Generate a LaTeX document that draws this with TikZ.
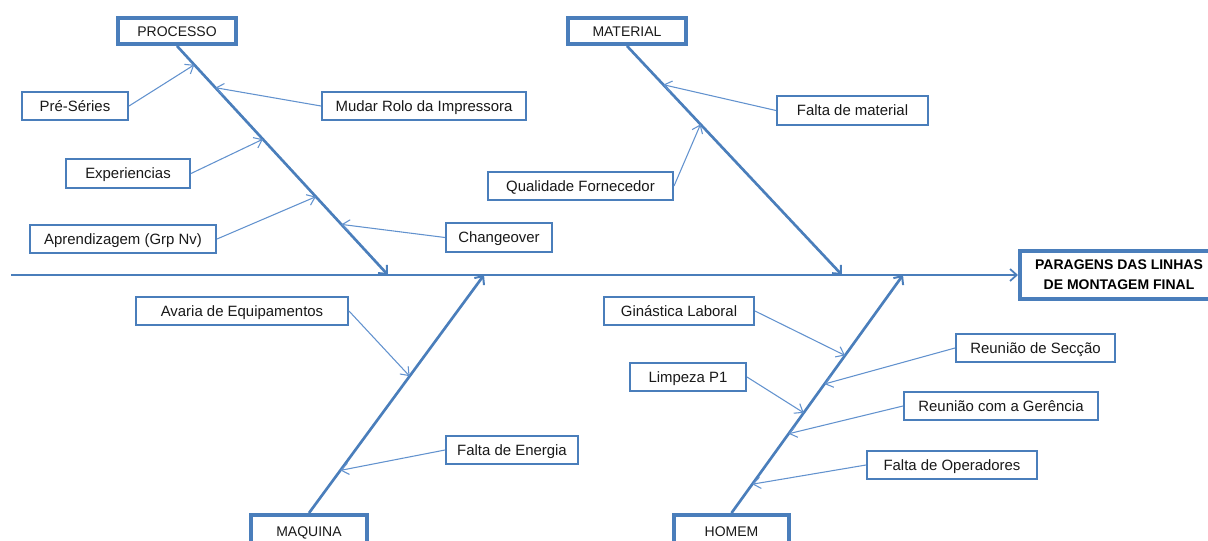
\documentclass[tikz,border=0pt]{standalone}
\usepackage{fontspec}
\setmainfont{Liberation Sans}
\usetikzlibrary{arrows.meta,calc}
\definecolor{boneblue}{RGB}{74,126,187}
\definecolor{linkblue}{RGB}{98,146,206}
\definecolor{inkgrey}{RGB}{25,25,25}
\begin{document}
\begin{tikzpicture}[x=0.75pt,y=-0.75pt,
  sz/.style 2 args={minimum width=#1*0.75pt, minimum height=#2*0.75pt},
  cause/.style={draw=boneblue,line width=1.5pt,inner sep=0pt,fill=white,text=inkgrey,
    text height=8pt,text depth=0pt,font=\fontsize{11.2}{13}\selectfont},
  category/.style={draw=boneblue,line width=3pt,inner sep=0pt,fill=white,text=inkgrey,
    text height=7.5pt,text depth=0pt,font=\fontsize{10.5}{12}\selectfont},
  effect/.style={draw=boneblue,line width=3pt,inner sep=0pt,fill=white,text=black,
    align=center,font=\fontsize{10.5}{15}\selectfont\bfseries},
  bone/.style={draw=boneblue,line width=2pt,
    -{Straight Barb[length=5pt,width=9pt,line width=1.5pt]}},
  spine/.style={draw=boneblue,line width=1.6pt,
    -{Straight Barb[length=5pt,width=9pt,line width=1.3pt]}},
  link/.style={draw=linkblue,line width=0.8pt,
    -{Straight Barb[length=5.5pt,width=8.5pt,line width=0.8pt]}},
]
\useasboundingbox (0,0) rectangle (1208,540);
\clip (0,0) rectangle (1208,540);

% effect at the head of the fish
\node[effect, sz={198}{48}] (head) at (1119,275) {PARAGENS DAS LINHAS\\DE MONTAGEM FINAL};

% category boxes
\node[category, sz={118}{26}] (proc) at (177,31) {PROCESSO};
\node[category, sz={118}{26}] (mat) at (627,31) {MATERIAL};
\node[category, sz={116}{32}] (maq) at (309,531) {MAQUINA};
\node[category, sz={115}{32}] (hom) at (731.5,531) {HOMEM};

% cause boxes
\node[cause, sz={106}{28}] (pre) at (75,106) {Pré-Séries};
\node[cause, sz={204}{28}] (rolo) at (424,106) {Mudar Rolo da Impressora};
\node[cause, sz={124}{29}] (exp) at (128,173.5) {Experiencias};
\node[cause, sz={186}{28}] (apr) at (123,239) {Aprendizagem (Grp Nv)};
\node[cause, sz={106}{29}] (chg) at (499,237.5) {Changeover};
\node[cause, sz={151}{29}] (fmat) at (852.5,110.5) {Falta de material};
\node[cause, sz={185}{28}] (qual) at (580.5,186) {Qualidade Fornecedor};
\node[cause, sz={212}{28}] (avar) at (242,311) {Avaria de Equipamentos};
\node[cause, sz={132}{28}] (ener) at (512,450) {Falta de Energia};
\node[cause, sz={150}{28}] (gin) at (679,311) {Ginástica Laboral};
\node[cause, sz={159}{28}] (rsec) at (1035.5,348) {Reunião de Secção};
\node[cause, sz={116}{28}] (limp) at (688,377) {Limpeza P1};
\node[cause, sz={194}{28}] (rger) at (1001,406) {Reunião com a Gerência};
\node[cause, sz={170}{28}] (oper) at (952,465) {Falta de Operadores};

% spine and where the bones meet it
\coordinate (tail) at (11,275);
\coordinate (pend) at (388,275);
\coordinate (mend) at (842,275);
\coordinate (qend) at (484,275);
\coordinate (hend) at (903,275);

\draw[spine] (tail) -- (head.west);
\draw[bone] (proc.south) -- (pend);
\draw[bone] (mat.south) -- (mend);
\draw[bone] (maq.north) -- (qend);
\draw[bone] (hom.north) -- (hend);

% points on the bones where the causes land
\coordinate (p1) at ($(proc.south)!0.082!(pend)$);
\coordinate (p2) at ($(proc.south)!0.182!(pend)$);
\coordinate (p3) at ($(proc.south)!0.407!(pend)$);
\coordinate (p4) at ($(proc.south)!0.658!(pend)$);
\coordinate (p5) at ($(proc.south)!0.779!(pend)$);
\coordinate (m1) at ($(mat.south)!0.169!(mend)$);
\coordinate (m2) at ($(mat.south)!0.342!(mend)$);
\coordinate (q1) at ($(maq.north)!0.575!(qend)$);
\coordinate (q2) at ($(maq.north)!0.179!(qend)$);
\coordinate (h1) at ($(hom.north)!0.662!(hend)$);
\coordinate (h2) at ($(hom.north)!0.542!(hend)$);
\coordinate (h3) at ($(hom.north)!0.421!(hend)$);
\coordinate (h4) at ($(hom.north)!0.333!(hend)$);
\coordinate (h5) at ($(hom.north)!0.121!(hend)$);

% cause arrows
\draw[link] (pre.east) -- (p1);
\draw[link] (rolo.west) -- (p2);
\draw[link] (exp.east) -- (p3);
\draw[link] (apr.east) -- (p4);
\draw[link] (chg.west) -- (p5);
\draw[link] (fmat.west) -- (m1);
\draw[link] (qual.east) -- (m2);
\draw[link] (avar.east) -- (q1);
\draw[link] (ener.west) -- (q2);
\draw[link] (gin.east) -- (h1);
\draw[link] (rsec.west) -- (h2);
\draw[link] (limp.east) -- (h3);
\draw[link] (rger.west) -- (h4);
\draw[link] (oper.west) -- (h5);
\end{tikzpicture}
\end{document}
